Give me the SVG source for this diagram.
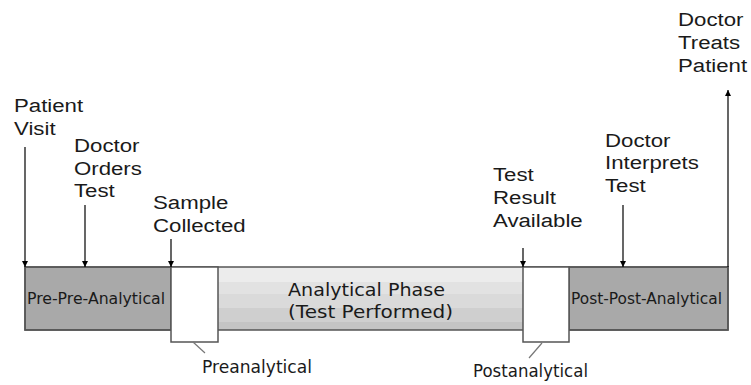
<svg xmlns="http://www.w3.org/2000/svg" width="751" height="385" viewBox="0 0 751 385">
<style>
.lbl{font-family:"Liberation Sans",Arial,sans-serif;font-size:19px;fill:#1a1a1a}
.bar{font-family:"DejaVu Sans",Verdana,sans-serif;fill:#1a1a1a}
.arr{stroke:#000;stroke-width:1.2;fill:none}
.box{stroke:#555;stroke-width:1.5}
.lead{stroke:#777;stroke-width:1.2}
</style>
<defs>
<marker id="ah" viewBox="0 0 10 10" refX="10" refY="5" markerWidth="6" markerHeight="6" orient="auto" markerUnits="userSpaceOnUse">
<path d="M0,0 L10,5 L0,10 Z" fill="#000"/>
</marker>
</defs>
<rect width="751" height="385" fill="#fff"/>

<g id="analytical">
<rect x="218" y="267" width="305" height="15" fill="#ececec"/>
<rect x="218" y="282" width="305" height="12" fill="#e2e2e2"/>
<rect x="218" y="294" width="305" height="14" fill="#dadada"/>
<rect x="218" y="308" width="305" height="14" fill="#cfcfcf"/>
<rect x="218" y="322" width="305" height="8" fill="#c4c4c4"/>
<text class="bar" x="288" y="296" font-size="18" textLength="157" lengthAdjust="spacingAndGlyphs">Analytical Phase</text>
<text class="bar" x="288" y="318" font-size="18" textLength="165" lengthAdjust="spacingAndGlyphs">(Test Performed)</text>
</g>
<g id="prepre">
<rect class="box" x="25" y="267" width="146" height="63" fill="#a9a9a9"/>
<text class="bar" x="27" y="304" font-size="15" textLength="138" lengthAdjust="spacingAndGlyphs">Pre-Pre-Analytical</text>
</g>
<g id="postpost">
<rect class="box" x="569" y="267" width="159" height="63" fill="#a9a9a9"/>
<text class="bar" x="571" y="304" font-size="15" textLength="151" lengthAdjust="spacingAndGlyphs">Post-Post-Analytical</text>
</g>
<rect x="25" y="267" width="703" height="63" fill="none" stroke="#555" stroke-width="1.5"/>
<g id="preanalytical">
<rect class="box" x="171" y="267" width="47" height="75" fill="#fff"/>
<text class="bar" x="202" y="373" font-size="17" textLength="110" lengthAdjust="spacingAndGlyphs">Preanalytical</text>
</g>
<g id="postanalytical">
<rect class="box" x="523" y="267" width="46" height="75" fill="#fff"/>
<text class="bar" x="473" y="377" font-size="17" textLength="115" lengthAdjust="spacingAndGlyphs">Postanalytical</text>
</g>

<g id="patient-visit">
<g transform="translate(14,0) scale(1.17,1)" class="lbl"><text x="0" y="112">Patient</text><text x="0" y="135">Visit</text></g>
</g>
<g id="doctor-orders">
<g transform="translate(74,0) scale(1.17,1)" class="lbl"><text x="0" y="152">Doctor</text><text x="0" y="175">Orders</text><text x="0" y="197">Test</text></g>
</g>
<g id="sample-collected">
<g transform="translate(153,0) scale(1.17,1)" class="lbl"><text x="0" y="209">Sample</text><text x="0" y="232">Collected</text></g>
</g>
<g id="test-result">
<g transform="translate(493,0) scale(1.17,1)" class="lbl"><text x="0" y="181">Test</text><text x="0" y="204">Result</text><text x="0" y="227">Available</text></g>
</g>
<g id="doctor-interprets">
<g transform="translate(605,0) scale(1.17,1)" class="lbl"><text x="0" y="147">Doctor</text><text x="0" y="169">Interprets</text><text x="0" y="192">Test</text></g>
</g>
<g id="doctor-treats">
<g transform="translate(678,0) scale(1.17,1)" class="lbl"><text x="0" y="26">Doctor</text><text x="0" y="49">Treats</text><text x="0" y="72">Patient</text></g>
</g>

<g id="connectors">
<line class="arr" x1="25" y1="147" x2="25" y2="267" marker-end="url(#ah)"/>
<line class="arr" x1="85" y1="205" x2="85" y2="267" marker-end="url(#ah)"/>
<line class="arr" x1="171" y1="239" x2="171" y2="267" marker-end="url(#ah)"/>
<line class="arr" x1="523" y1="248" x2="523" y2="267" marker-end="url(#ah)"/>
<line class="arr" x1="623" y1="205" x2="623" y2="267" marker-end="url(#ah)"/>
<line class="arr" x1="728" y1="267" x2="728" y2="90" marker-end="url(#ah)"/>
<line class="lead" x1="193" y1="342" x2="205" y2="353"/>
<line class="lead" x1="542" y1="343" x2="529" y2="358"/>
</g>
</svg>
